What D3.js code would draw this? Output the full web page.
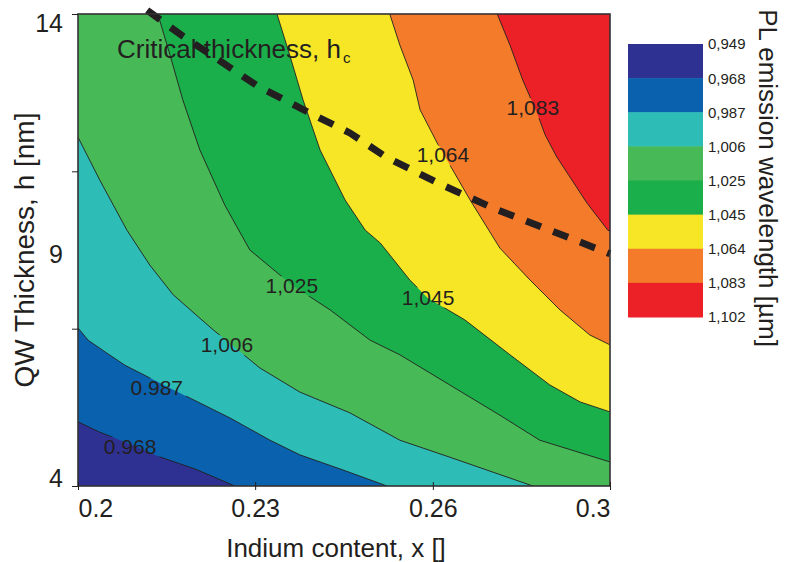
<!DOCTYPE html>
<html><head><meta charset="utf-8">
<script src="https://cdn.jsdelivr.net/npm/d3@7"></script>
<style>
html,body{margin:0;padding:0;background:#fff;}
svg{display:block;font-family:"Liberation Sans",Arial,Helvetica,sans-serif;}
</style></head><body>
<svg id="chart" width="786" height="562"></svg>
<script>
// PL emission wavelength contour levels (µm)
const levels = [0.949, 0.968, 0.987, 1.006, 1.025, 1.045, 1.064, 1.083, 1.102];
const bandColors = ["#2e3192", "#0a62ae", "#2dbdb6", "#48b957", "#1baf4b", "#f6e626", "#f47b2a", "#ec2128"];

// Iso-wavelength lines as [indium content x, QW thickness h (nm)],
// each running from the upper-left edge to the lower-right edge
const iso0968 = [[0.2, 5.36], [0.2041, 5.14], [0.2098, 4.89], [0.2148, 4.64], [0.2220, 4.36], [0.2295, 4.0]];
const iso0987 = [[0.2, 7.35], [0.2019, 7.09], [0.2051, 6.84], [0.2088, 6.56], [0.2154, 6.18], [0.2211, 5.86],
                 [0.2286, 5.44], [0.2361, 4.97], [0.2417, 4.66], [0.2498, 4.34], [0.2581, 4.0]];
const iso1006 = [[0.2, 11.39], [0.2041, 10.48], [0.2092, 9.42], [0.2135, 8.68], [0.2179, 8.05], [0.2254, 7.31],
                 [0.2342, 6.50], [0.2417, 5.99], [0.2511, 5.55], [0.2605, 4.97], [0.2699, 4.61], [0.2855, 4.0]];
const iso1025 = [[0.2150, 14], [0.2173, 13.13], [0.2197, 12.18], [0.2229, 11.12], [0.2276, 9.95], [0.2323, 9.00],
                 [0.2402, 8.26], [0.2474, 7.73], [0.2549, 7.09], [0.2605, 6.78], [0.2699, 6.14], [0.2793, 5.50],
                 [0.2868, 4.97], [0.3, 4.51]];
const iso1045 = [[0.2374, 14], [0.2398, 13.13], [0.2423, 12.18], [0.2455, 11.12], [0.2502, 10.06], [0.2540, 9.42],
                 [0.2568, 9.15], [0.2624, 8.36], [0.2658, 7.98], [0.2727, 7.52], [0.2812, 6.78], [0.2887, 6.14],
                 [0.2944, 5.78], [0.3, 5.57]];
const iso1064 = [[0.2586, 14], [0.2605, 13.34], [0.2630, 12.60], [0.2643, 11.97], [0.2675, 11.27], [0.2699, 10.80],
                 [0.2737, 10.06], [0.2793, 9.04], [0.2850, 8.36], [0.2906, 7.73], [0.2962, 7.20], [0.3, 6.99]];
const iso1083 = [[0.2788, 14], [0.2812, 13.34], [0.2836, 12.60], [0.2863, 11.90], [0.2878, 11.44], [0.2900, 10.97],
                 [0.2957, 9.99], [0.2996, 9.42], [0.3, 9.40]];
const isoLines = [iso0968, iso0987, iso1006, iso1025, iso1045, iso1064, iso1083];
const isoLabelText = ["0.968", "0.987", "1,006", "1,025", "1,045", "1,064", "1,083"];
const isoLabelAt = [[0.2098, 4.83], [0.2148, 6.08], [0.2280, 6.99], [0.2402, 8.24], [0.2658, 8.00], [0.2686, 11.01], [0.2855, 12.01]];

// Critical thickness h_c versus indium content
const criticalThickness = [[0.2130, 14.08], [0.2197, 13.53], [0.2248, 13.15], [0.2338, 12.47], [0.2385, 12.20],
                           [0.2436, 11.90], [0.2511, 11.48], [0.2579, 10.97], [0.2680, 10.40], [0.2784, 9.87],
                           [0.2887, 9.42], [0.3000, 8.92]];

const xDomain = [0.2, 0.3];
const yDomain = [4, 14];
const xTickValues = [0.2, 0.2333, 0.2667, 0.3];
const xTickLabels = ["0.2", "0.23", "0.26", "0.3"];
const yTickValues = [4, 7.333, 10.667, 14];
const yLabelValues = [4, 9, 14];

const ink = "#231f20";
const plot = {left: 78, right: 610, top: 14, bottom: 486};

const svg = d3.select("#chart");
const x = d3.scaleLinear().domain(xDomain).range([plot.left, plot.right]);
const y = d3.scaleLinear().domain(yDomain).range([plot.bottom, plot.top]);
const line = d3.line().x(d => x(d[0])).y(d => y(d[1]));

const defs = svg.append("defs");
defs.append("clipPath").attr("id", "plot-clip")
  .append("rect")
  .attr("x", plot.left).attr("y", plot.top)
  .attr("width", plot.right - plot.left).attr("height", plot.bottom - plot.top);

// Region on the long-wavelength side of an iso-line, closed through the plot corners
function upperRegion(pts) {
  const out = pts.slice();
  const first = pts[0], last = pts[pts.length - 1];
  if (last[1] === yDomain[0]) out.push([xDomain[1], yDomain[0]]);
  out.push([xDomain[1], yDomain[1]]);
  if (first[0] === xDomain[0]) out.push([xDomain[0], yDomain[1]]);
  return out;
}

const fills = svg.append("g").attr("clip-path", "url(#plot-clip)");
fills.append("rect")
  .attr("x", plot.left).attr("y", plot.top)
  .attr("width", plot.right - plot.left).attr("height", plot.bottom - plot.top)
  .attr("fill", bandColors[0]);
fills.selectAll("path.band")
  .data(isoLines)
  .join("path")
  .attr("class", "band")
  .attr("d", d => line(upperRegion(d)) + "Z")
  .attr("fill", (d, i) => bandColors[i + 1]);

// Iso-lines, broken where their labels sit
const mask = defs.append("mask").attr("id", "label-gaps").attr("maskUnits", "userSpaceOnUse")
  .attr("x", 0).attr("y", 0).attr("width", 786).attr("height", 562);
mask.append("rect").attr("x", 0).attr("y", 0).attr("width", 786).attr("height", 562).attr("fill", "#fff");

const lineLayer = svg.append("g").attr("clip-path", "url(#plot-clip)")
  .append("g").attr("mask", "url(#label-gaps)");
lineLayer.selectAll("path")
  .data(isoLines)
  .join("path")
  .attr("d", d => line(d))
  .attr("fill", "none")
  .attr("stroke", ink)
  .attr("stroke-width", 0.9);

const labels = svg.append("g")
  .selectAll("text")
  .data(isoLabelAt)
  .join("text")
  .attr("x", d => x(d[0]))
  .attr("y", d => y(d[1]))
  .attr("dy", "0.35em")
  .attr("text-anchor", "middle")
  .attr("font-size", 21)
  .attr("fill", ink)
  .text((d, i) => isoLabelText[i]);
labels.each(function () {
  const b = this.getBBox();
  mask.append("rect")
    .attr("x", b.x - 3).attr("y", b.y + 2)
    .attr("width", b.width + 6).attr("height", b.height - 3)
    .attr("fill", "#000");
});

// Critical thickness curve
svg.append("path")
  .attr("d", line(criticalThickness))
  .attr("fill", "none")
  .attr("stroke", ink)
  .attr("stroke-width", 7)
  .attr("stroke-dasharray", "16 13");

const ct = svg.append("text")
  .attr("x", 117).attr("y", 58)
  .attr("font-size", 26)
  .attr("fill", ink);
ct.append("tspan").text("Critical thickness, h");
ct.append("tspan").attr("font-size", 15).attr("dx", 2).attr("dy", 5).text("c");

// Frame
svg.append("rect")
  .attr("x", plot.left).attr("y", plot.top)
  .attr("width", plot.right - plot.left).attr("height", plot.bottom - plot.top)
  .attr("fill", "none").attr("stroke", "#333").attr("stroke-width", 1.6);

// X axis
const xAxis = svg.append("g")
  .attr("transform", `translate(0,${plot.bottom})`)
  .call(d3.axisBottom(x).tickValues(xTickValues).tickSize(5).tickPadding(8)
    .tickFormat((d, i) => xTickLabels[i]));
xAxis.select(".domain").remove();
xAxis.selectAll(".tick line").attr("stroke", ink).attr("y1", -4).attr("y2", 4);
xAxis.selectAll(".tick text")
  .attr("font-size", 25).attr("fill", ink).attr("font-family", null)
  .attr("text-anchor", (d, i) => i === 0 ? "start" : (i === xTickValues.length - 1 ? "end" : "middle"));

// Y axis: tick marks and labels
const yMarks = svg.append("g")
  .attr("transform", `translate(${plot.left},0)`)
  .call(d3.axisLeft(y).tickValues(yTickValues).tickSize(6).tickFormat(""));
yMarks.select(".domain").remove();
yMarks.selectAll(".tick line").attr("stroke", ink);

const yLabels = svg.append("g")
  .attr("transform", `translate(${plot.left},0)`)
  .call(d3.axisLeft(y).tickValues(yLabelValues).tickSize(0).tickPadding(15).tickFormat(d3.format("d")));
yLabels.select(".domain").remove();
yLabels.selectAll(".tick text")
  .attr("font-size", 25).attr("fill", ink).attr("font-family", null)
  .attr("dy", d => d === yDomain[1] ? "0.71em" : (d === yDomain[0] ? "0em" : "0.5em"));

// Axis titles
svg.append("text")
  .attr("x", 336).attr("y", 557)
  .attr("text-anchor", "middle")
  .attr("font-size", 26).attr("fill", ink)
  .text("Indium content, x []");
svg.append("text")
  .attr("transform", "translate(34,250) rotate(-90)")
  .attr("text-anchor", "middle")
  .attr("font-size", 28).attr("fill", ink)
  .text("QW Thickness, h [nm]");

// Legend
const legendY = d3.scalePoint().domain(levels).range([44, 317]);
const legend = svg.append("g");
legend.selectAll("rect")
  .data(bandColors)
  .join("rect")
  .attr("x", 628)
  .attr("y", (d, i) => legendY(levels[i]))
  .attr("width", 75)
  .attr("height", (d, i) => legendY(levels[i + 1]) - legendY(levels[i]) + 0.5)
  .attr("fill", d => d);
const commaFormat = d3.formatLocale({decimal: ",", thousands: ".", grouping: [3], currency: ["", ""]}).format(".3f");
legend.selectAll("text")
  .data(levels)
  .join("text")
  .attr("x", 708)
  .attr("y", d => legendY(d))
  .attr("dy", "0.36em")
  .attr("font-size", 15)
  .attr("fill", ink)
  .text(d => commaFormat(d));
svg.append("text")
  .attr("transform", "translate(759,178) rotate(90)")
  .attr("text-anchor", "middle")
  .attr("font-size", 26).attr("fill", ink)
  .text("PL emission wavelength [µm]");
</script>
</body></html>
